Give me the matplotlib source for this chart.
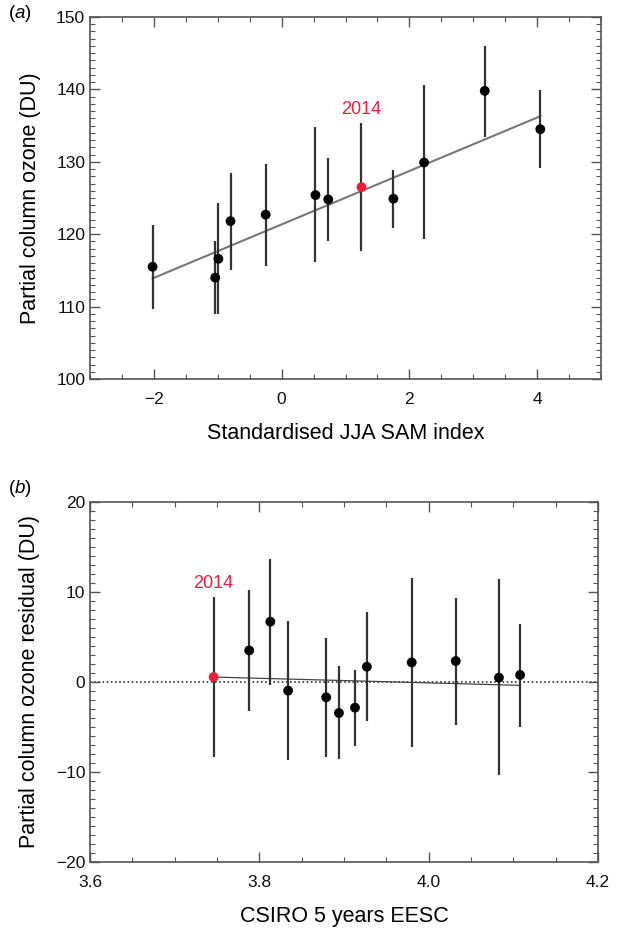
import matplotlib.pyplot as plt
from matplotlib.ticker import MultipleLocator, FuncFormatter
import numpy as np

plt.rcParams['font.family'] = ['Liberation Sans', 'DejaVu Sans']
plt.rcParams['mathtext.fontset'] = 'custom'
plt.rcParams['mathtext.rm'] = 'Liberation Sans'
plt.rcParams['mathtext.it'] = 'Liberation Sans:italic'

# Panel (a): SAM index vs partial column ozone
sam = [-2.02, -1.04, -0.99, -0.80, -0.25, 0.53, 0.73, 1.25, 1.75, 2.23, 3.18, 4.05]
ozone = [115.5, 114.0, 116.6, 121.8, 122.7, 125.4, 124.8, 126.5, 124.9, 129.9, 139.8, 134.5]
ozone_hi = [121.3, 119.0, 124.3, 128.5, 129.7, 134.8, 130.5, 135.3, 128.8, 140.6, 146.0, 139.9]
ozone_lo = [109.7, 109.0, 109.0, 115.1, 115.6, 116.1, 119.1, 117.7, 120.9, 119.3, 133.4, 129.1]
fit_a_slope = 3.69
fit_a_icept = 121.35

# Panel (b): EESC vs ozone residual
eesc = [3.746, 3.788, 3.813, 3.834, 3.879, 3.894, 3.913, 3.927, 3.980, 4.032, 4.083, 4.108]
resid = [0.55, 3.51, 6.70, -0.96, -1.70, -3.44, -2.85, 1.70, 2.18, 2.33, 0.48, 0.78]
resid_hi = [9.43, 10.21, 13.69, 6.73, 4.88, 1.74, 1.37, 7.73, 11.51, 9.32, 11.39, 6.47]
resid_lo = [-8.36, -3.22, -0.30, -8.69, -8.36, -8.58, -7.10, -4.37, -7.18, -4.74, -10.36, -4.96]
fit_b_ends = [0.55, -0.37]

red_idx_a = 7   # 2014
red_idx_b = 0
RED = '#e8203a'
SPINE = '#555555'


def minus(v, pos):
    s = f"{v:g}"
    return s.replace('-', '\u2212')


def style_axes(ax):
    for s in ax.spines.values():
        s.set_color(SPINE)
        s.set_linewidth(1.2)
    ax.tick_params(which='both', direction='in', top=True, right=True,
                   colors=SPINE, labelcolor='#111111', labelsize=12.5)
    ax.tick_params(which='major', length=7, width=1.0)
    ax.tick_params(which='minor', length=3.5, width=0.8)


def draw_points(ax, x, y, lo, hi, red_idx):
    ax.vlines(x, lo, hi, color='#333333', linewidth=1.6, zorder=2)
    cols = ['black'] * len(x)
    cols[red_idx] = RED
    ax.scatter(x, y, s=50, c=cols, zorder=3, edgecolors='none')


fig = plt.figure(figsize=(6.19, 9.3), dpi=100)

# ---- panel (a)
ax1 = fig.add_axes([90 / 619, 1 - 379 / 930, 511 / 619, 362 / 930])
xa = np.array([min(sam), max(sam)])
ax1.plot(xa, fit_a_icept + fit_a_slope * xa, color='#777777', linewidth=1.5, zorder=1)
draw_points(ax1, sam, ozone, ozone_lo, ozone_hi, red_idx_a)
ax1.text(sam[red_idx_a], 137.2, '2014', color=RED, fontsize=13, ha='center', va='center')
ax1.set_xlim(-3, 5)
ax1.set_ylim(100, 150)
ax1.xaxis.set_major_locator(MultipleLocator(2))
ax1.xaxis.set_minor_locator(MultipleLocator(0.5))
ax1.yaxis.set_major_locator(MultipleLocator(10))
ax1.yaxis.set_minor_locator(MultipleLocator(1))
ax1.xaxis.set_major_formatter(FuncFormatter(minus))
style_axes(ax1)
ax1.tick_params(axis='x', pad=9)
ax1.set_xlabel('Standardised JJA SAM index', fontsize=15.5, labelpad=12)
ax1.set_ylabel('Partial column ozone (DU)', fontsize=15.5, labelpad=11)
fig.text(8 / 619, 1 - 14 / 930, '($\\mathit{a}$)', fontsize=13.5, va='center')

# ---- panel (b)
ax2 = fig.add_axes([90 / 619, 1 - 862 / 930, 508 / 619, 360 / 930])
ax2.axhline(0, color='#333333', linestyle=(0, (1, 1.5)), linewidth=1.2, zorder=1)
ax2.plot([eesc[0], eesc[-1]], fit_b_ends, color='#444444', linewidth=0.9, zorder=1)
draw_points(ax2, eesc, resid, resid_lo, resid_hi, red_idx_b)
ax2.text(eesc[red_idx_b], 11.0, '2014', color=RED, fontsize=13, ha='center', va='center')
ax2.set_xlim(3.6, 4.2)
ax2.set_ylim(-20, 20)
ax2.xaxis.set_major_locator(MultipleLocator(0.2))
ax2.xaxis.set_minor_locator(MultipleLocator(0.05))
ax2.yaxis.set_major_locator(MultipleLocator(10))
ax2.yaxis.set_minor_locator(MultipleLocator(1))
ax2.xaxis.set_major_formatter(FuncFormatter(lambda v, p: f"{v:.1f}"))
ax2.yaxis.set_major_formatter(FuncFormatter(minus))
style_axes(ax2)
ax2.tick_params(axis='x', pad=9)
ax2.set_xlabel('CSIRO 5 years EESC', fontsize=15.5, labelpad=12)
ax2.set_ylabel('Partial column ozone residual (DU)', fontsize=15.5, labelpad=11)
fig.text(8 / 619, 1 - 488 / 930, '($\\mathit{b}$)', fontsize=13.5, va='center')

fig.savefig('out.png', dpi=100)
